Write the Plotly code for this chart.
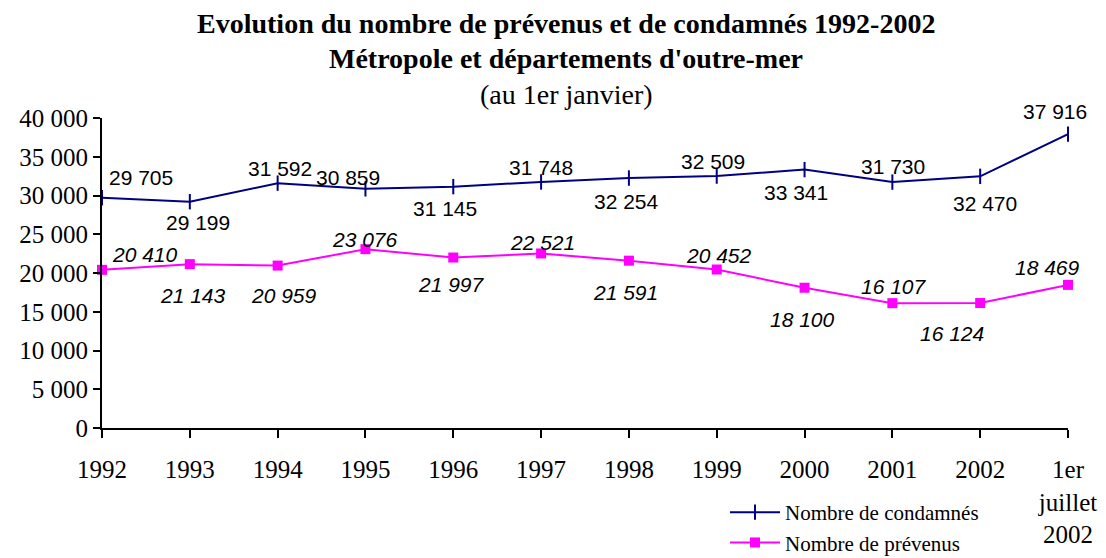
import plotly.graph_objects as go

categories = ["1992", "1993", "1994", "1995", "1996", "1997", "1998", "1999",
              "2000", "2001", "2002", "1er<br>juillet<br>2002"]
condamnes = [29705, 29199, 31592, 30859, 31145, 31748, 32254, 32509,
             33341, 31730, 32470, 37916]
prevenus = [20410, 21143, 20959, 23076, 21997, 22521, 21591, 20452,
            18100, 16107, 16124, 18469]
y_tick_vals = [0, 5000, 10000, 15000, 20000, 25000, 30000, 35000, 40000]

def fmt(v):
    return f"{v:,}".replace(",", " ")

# label placement (style only): pixel shifts relative to each point
cond_dx = [39, 8, 2, -17, -8, 0, -2, -4, -9, 1, 5, -13]
cond_dy = [-20, 21, -15, -11, 22, -14, 23, -15, 23, -16, 27, -23]
prev_dx = [43, 3, 6, 0, -2, 1, -3, 2, -2, 2, -28, -21]
prev_dy = [-15, 31, 30, -10, 27, -11, 32, -14, 32, -17, 30, -17]

x = list(range(len(categories)))
NAVY = "#000080"
MAG = "#FF00FF"
SERIF = "Liberation Serif, Times New Roman, serif"
SANS = "Liberation Sans, Arial, sans-serif"

# plot area in pixels
L, R, T, B = 102, 38, 118, 130
W, H = 1106, 558
PW, PH = W - L - R, H - T - B

fig = go.Figure()
fig.add_trace(go.Scatter(
    x=x, y=condamnes, mode="lines+markers", name="Nombre de condamnés",
    line=dict(color=NAVY, width=2),
    marker=dict(symbol="line-ns-open", size=11, color=NAVY, line=dict(color=NAVY, width=2)),
    cliponaxis=False))
fig.add_trace(go.Scatter(
    x=x, y=prevenus, mode="lines+markers", name="Nombre de prévenus",
    line=dict(color=MAG, width=2),
    marker=dict(symbol="square", size=10, color=MAG),
    cliponaxis=False))

annotations = []
for i, v in enumerate(condamnes):
    annotations.append(dict(x=x[i], y=v, xref="x", yref="y", text=fmt(v), showarrow=False,
                            xshift=cond_dx[i], yshift=-cond_dy[i],
                            font=dict(family=SANS, size=21, color="black")))
for i, v in enumerate(prevenus):
    annotations.append(dict(x=x[i], y=v, xref="x", yref="y", text=f"<i>{fmt(v)}</i>", showarrow=False,
                            xshift=prev_dx[i], yshift=-prev_dy[i],
                            font=dict(family=SANS, size=21, color="black")))

title_lines = [
    ("<b>Evolution du nombre de prévenus et de condamnés 1992-2002</b>", 23, 28),
    ("<b>Métropole et départements d'outre-mer</b>", 59, 28),
    ("(au 1er janvier)", 94, 28),
]
for txt, ypix, fs in title_lines:
    annotations.append(dict(x=(566 - L) / PW, y=(H - ypix - B) / PH, xref="paper", yref="paper",
                            text=txt, showarrow=False, yanchor="middle", xanchor="center",
                            font=dict(family=SERIF, size=fs, color="black")))

fig.update_layout(
    width=W, height=H,
    margin=dict(l=L, r=R, t=T, b=B, autoexpand=False),
    paper_bgcolor="white", plot_bgcolor="white",
    showlegend=True,
    legend=dict(x=(725 - L) / PW, y=(H - 492 - B) / PH, xanchor="left", yanchor="top",
                font=dict(family=SERIF, size=21, color="black"),
                bgcolor="rgba(0,0,0,0)", tracegroupgap=0, itemwidth=50),
    annotations=annotations,
    xaxis=dict(range=[0, 11], tickmode="array", tickvals=x, ticktext=categories,
               automargin=False,
               showgrid=False, zeroline=False, showline=True, linecolor="black", linewidth=2,
               ticks="outside", ticklen=8, tickwidth=2, tickcolor="black",
               ticklabelstandoff=10,
               tickfont=dict(family=SERIF, size=25, color="black")),
    yaxis=dict(range=[0, 40000], tickmode="array", tickvals=y_tick_vals,
               ticktext=[fmt(v) for v in y_tick_vals], automargin=False,
               showgrid=False, zeroline=False, showline=True, linecolor="black", linewidth=2,
               ticks="outside", ticklen=7, tickwidth=2, tickcolor="black",
               tickfont=dict(family=SERIF, size=25, color="black")),
)

fig.write_html("out.html", config={"displayModeBar": False},
               post_script="document.body.style.margin='0';document.body.style.overflow='hidden';")
